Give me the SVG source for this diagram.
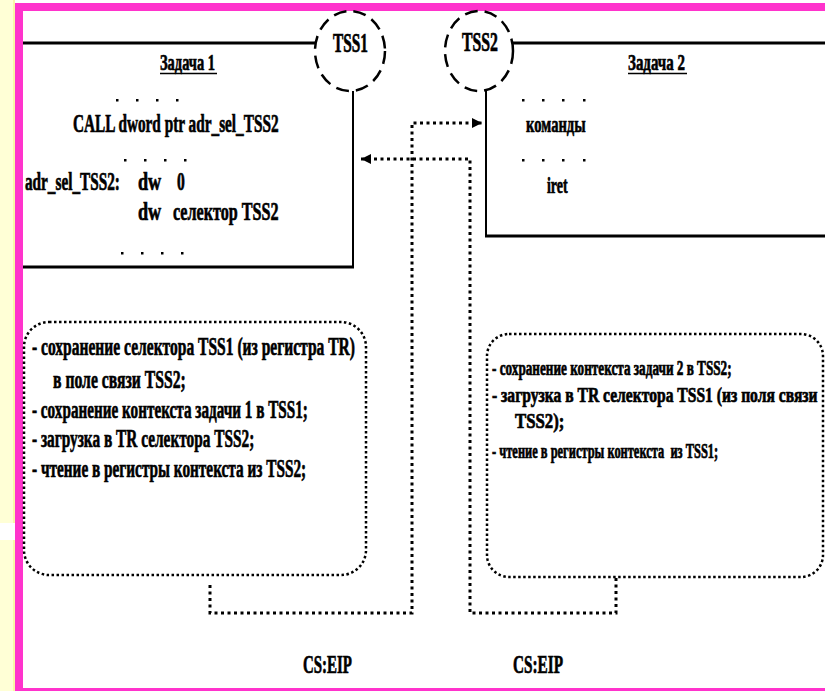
<svg xmlns="http://www.w3.org/2000/svg" width="825" height="691" viewBox="0 0 825 691">
<style>
.t{font-family:"Liberation Serif","Times New Roman",serif;font-weight:bold;font-size:26px;fill:#000;stroke:#000;stroke-width:0.7}
.s{font-size:23px}
.m{font-size:24px}
.r{font-size:20px}
.r2{font-size:21px}
.big{font-size:27px}
.box{fill:none;stroke:#000;stroke-width:3}
.edge{fill:none;stroke:#000;stroke-width:2}
.tss{fill:#fff;stroke:#000;stroke-width:2.5;stroke-dasharray:13 7}
.rb{fill:none;stroke:#000;stroke-width:2.5;stroke-dasharray:2.5 2.5}
.con{fill:none;stroke:#000;stroke-width:3;stroke-dasharray:3 3.5}
.dot{fill:#000}
</style>
<defs>
<marker id="ah" markerUnits="userSpaceOnUse" markerWidth="11" markerHeight="11" refX="10" refY="5" orient="auto">
<path d="M0,0 L10,5 L0,10 z" fill="#000"/>
</marker>
</defs>
<rect width="825" height="691" fill="#fff"/>
<g id="frame">
<rect x="0" y="0" width="15" height="691" fill="#FFFFD6"/>
<line x1="14" y1="0" x2="14" y2="691" stroke="#F2EE7A" stroke-width="1"/>
<rect x="0" y="523" width="15" height="17" fill="#fff"/>
<rect x="15" y="3" width="810" height="8" fill="#FF33CC"/>
<rect x="15" y="3" width="8" height="688" fill="#FF33CC"/>
<rect x="15" y="688" width="810" height="3" fill="#FF33CC"/>
</g>
<g font-family="Liberation Serif, serif" font-weight="bold">
<g id="task1">
<line class="box" x1="23" y1="43" x2="316" y2="43"/>
<line class="edge" x1="353" y1="91" x2="353" y2="268"/>
<line class="box" x1="23" y1="267" x2="354" y2="267"/>
<text class="t s" transform="translate(160,70) scale(0.628,1)">Задача 1</text>
<line x1="160" y1="73.5" x2="217" y2="73.5" stroke="#000" stroke-width="1.5"/>
<g class="dot">
<rect x="116" y="99" width="2.5" height="2.5"/><rect x="136" y="99" width="2.5" height="2.5"/><rect x="156" y="99" width="2.5" height="2.5"/><rect x="176" y="99" width="2.5" height="2.5"/>
<rect x="124" y="159" width="2.5" height="2.5"/><rect x="144" y="159" width="2.5" height="2.5"/><rect x="164" y="159" width="2.5" height="2.5"/><rect x="184" y="159" width="2.5" height="2.5"/>
<rect x="121" y="252" width="2.5" height="2.5"/><rect x="141" y="252" width="2.5" height="2.5"/><rect x="161" y="252" width="2.5" height="2.5"/><rect x="181" y="252" width="2.5" height="2.5"/>
</g>
<text class="t" transform="translate(73,132) scale(0.588,1)">CALL dword ptr adr_sel_TSS2</text>
<text class="t" transform="translate(25,190) scale(0.587,1)">adr_sel_TSS2:</text>
<text class="t" transform="translate(138,190) scale(0.7,1)">dw</text>
<text class="t" transform="translate(177,190) scale(0.6,1)">0</text>
<text class="t" transform="translate(138,220) scale(0.7,1)">dw</text>
<text class="t" transform="translate(173,220) scale(0.62,1)">селектор TSS2</text>
</g>
<g id="tss1">
<ellipse class="tss" cx="350" cy="51" rx="35" ry="40"/>
<text class="t big" transform="translate(333,52) scale(0.569,1)">TSS1</text>
</g>
<g id="task2">
<line class="box" x1="513" y1="43" x2="825" y2="43"/>
<line class="edge" x1="486" y1="91" x2="486" y2="237"/>
<line class="box" x1="485" y1="236" x2="825" y2="236"/>
<text class="t s" transform="translate(628,70) scale(0.65,1)">Задача 2</text>
<line x1="628" y1="73.5" x2="687" y2="73.5" stroke="#000" stroke-width="1.5"/>
<g class="dot">
<rect x="522" y="99" width="2.5" height="2.5"/><rect x="542" y="99" width="2.5" height="2.5"/><rect x="562" y="99" width="2.5" height="2.5"/><rect x="583" y="99" width="2.5" height="2.5"/>
<rect x="522" y="159" width="2.5" height="2.5"/><rect x="542" y="159" width="2.5" height="2.5"/><rect x="562" y="159" width="2.5" height="2.5"/><rect x="583" y="159" width="2.5" height="2.5"/>
</g>
<text class="t m" transform="translate(526,132) scale(0.61,1)">команды</text>
<text class="t m" transform="translate(547,193) scale(0.58,1)">iret</text>
</g>
<g id="tss2">
<ellipse class="tss" cx="479" cy="51" rx="34" ry="40"/>
<text class="t big" transform="translate(462,51) scale(0.585,1)">TSS2</text>
</g>
<g id="actions1">
<rect class="rb" x="24" y="322" width="342" height="253" rx="25" ry="25"/>
<text class="t" transform="translate(32,355) scale(0.598,1)">- сохранение селектора TSS1 (из регистра TR)</text>
<text class="t" transform="translate(53,388) scale(0.604,1)">в поле связи TSS2;</text>
<text class="t" transform="translate(32,418) scale(0.585,1)">- сохранение контекста задачи 1 в TSS1;</text>
<text class="t" transform="translate(32,447) scale(0.59,1)">- загрузка в TR селектора TSS2;</text>
<text class="t" transform="translate(32,477) scale(0.588,1)">- чтение в регистры контекста из TSS2;</text>
</g>
<g id="actions2">
<rect class="rb" x="487" y="334" width="336" height="243" rx="22" ry="22"/>
<text class="t r" transform="translate(492,375) scale(0.66,1)">- сохранение контекста задачи 2 в TSS2;</text>
<text class="t r2" transform="translate(492,402) scale(0.743,1)">- загрузка в TR селектора TSS1 (из поля связи</text>
<text class="t r2" transform="translate(515,428) scale(0.8,1)">TSS2);</text>
<text class="t r" transform="translate(492,458) scale(0.622,1)" xml:space="preserve">- чтение в регистры контекста  из TSS1;</text>
</g>
<g id="labels">
<text class="t" transform="translate(303,673) scale(0.575,1)">CS:EIP</text>
<text class="t" transform="translate(513,673) scale(0.587,1)">CS:EIP</text>
</g>
</g>
<g id="connectors">
<path class="con" d="M210,585 V613 H412 V123 H482" marker-end="url(#ah)"/>
<path class="con" d="M616,578 V613 H470 V159 H361" marker-end="url(#ah)"/>
</g>
</svg>
